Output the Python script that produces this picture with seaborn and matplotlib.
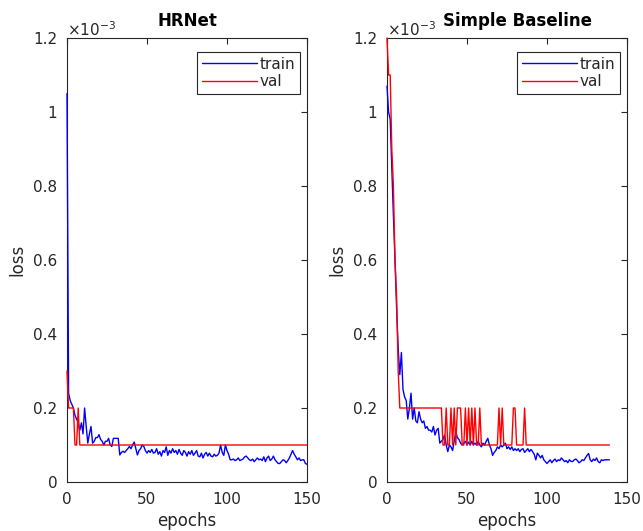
import numpy as np
import pandas as pd
import matplotlib
matplotlib.use('Agg')
import matplotlib.pyplot as plt
import seaborn as sns

# loss values, in units of 1e-3
hrnet_train = [
    1.05, 0.24, 0.22, 0.21, 0.20, 0.18, 0.17, 0.16, 0.14, 0.16,
    0.13, 0.20, 0.15, 0.105, 0.13, 0.15, 0.105, 0.11, 0.12, 0.12,
    0.128, 0.115, 0.11, 0.10, 0.11, 0.11, 0.118, 0.10, 0.096, 0.118,
    0.118, 0.118, 0.118, 0.073, 0.08, 0.083, 0.08, 0.085, 0.09, 0.096,
    0.09, 0.10, 0.108, 0.09, 0.073, 0.085, 0.09, 0.10, 0.096, 0.085,
    0.078, 0.085, 0.08, 0.088, 0.078, 0.08, 0.09, 0.075, 0.082, 0.07,
    0.085, 0.08, 0.095, 0.072, 0.085, 0.078, 0.09, 0.08, 0.085, 0.075,
    0.088, 0.078, 0.072, 0.085, 0.08, 0.07, 0.082, 0.075, 0.085, 0.072,
    0.078, 0.085, 0.07, 0.068, 0.078, 0.065, 0.075, 0.08, 0.07, 0.078,
    0.07, 0.068, 0.075, 0.07, 0.072, 0.078, 0.10, 0.08, 0.072, 0.10,
    0.085, 0.075, 0.06, 0.06, 0.062, 0.058, 0.06, 0.065, 0.058, 0.06,
    0.062, 0.068, 0.07, 0.065, 0.06, 0.058, 0.062, 0.055, 0.06, 0.065,
    0.06, 0.062, 0.058, 0.068, 0.055, 0.065, 0.07, 0.058, 0.062, 0.07,
    0.06, 0.055, 0.05, 0.05, 0.055, 0.06, 0.058, 0.052, 0.058, 0.065,
    0.075, 0.085, 0.075, 0.068, 0.06, 0.065, 0.058, 0.06, 0.06, 0.05,
    0.048,
]
# validation loss as (value, number of epochs) runs
hrnet_val_runs = [(0.3, 1), (0.2, 4), (0.1, 2), (0.2, 1), (0.1, 143)]

sb_train = [
    1.07, 1.0, 0.98, 0.85, 0.72, 0.6, 0.47, 0.36, 0.29, 0.35,
    0.25, 0.23, 0.22, 0.17, 0.2, 0.24, 0.17, 0.2, 0.165, 0.16,
    0.19, 0.17, 0.16, 0.165, 0.145, 0.15, 0.14, 0.14, 0.135, 0.15,
    0.127, 0.14, 0.145, 0.105, 0.11, 0.115, 0.127, 0.1, 0.082, 0.1,
    0.095, 0.085, 0.11, 0.136, 0.12, 0.115, 0.105, 0.1, 0.105, 0.11,
    0.1, 0.108, 0.1, 0.11, 0.1, 0.105, 0.1, 0.11, 0.1, 0.095,
    0.105, 0.1, 0.11, 0.118, 0.1, 0.09, 0.072, 0.08, 0.085, 0.095,
    0.09, 0.1, 0.095, 0.1, 0.105, 0.09, 0.095, 0.088, 0.095, 0.085,
    0.09, 0.085, 0.09, 0.082, 0.088, 0.09, 0.08, 0.085, 0.09, 0.082,
    0.088, 0.082, 0.075, 0.06, 0.078, 0.072, 0.065, 0.072, 0.06, 0.055,
    0.05, 0.055, 0.06, 0.052, 0.058, 0.062, 0.055, 0.06, 0.058, 0.065,
    0.06, 0.055, 0.058, 0.052, 0.06, 0.056, 0.055, 0.06, 0.062, 0.058,
    0.052, 0.055, 0.06, 0.058, 0.065, 0.072, 0.077, 0.06, 0.055, 0.062,
    0.058, 0.065, 0.055, 0.052, 0.06, 0.058, 0.06, 0.06, 0.06, 0.06,
]
sb_val_runs = [
    (1.2, 1), (1.1, 2), (0.9, 1), (0.8, 1), (0.6, 1), (0.5, 1), (0.3, 1),
    (0.2, 27), (0.1, 2), (0.2, 1), (0.1, 2), (0.2, 1), (0.1, 1), (0.2, 1),
    (0.1, 1), (0.2, 3), (0.1, 2), (0.2, 1), (0.1, 1), (0.2, 1), (0.1, 1),
    (0.2, 1), (0.1, 1), (0.2, 1), (0.1, 2), (0.2, 1), (0.1, 11), (0.2, 1),
    (0.1, 1), (0.2, 1), (0.1, 6), (0.2, 2), (0.1, 5), (0.2, 1), (0.1, 53),
]

titles = ['HRNet', 'Simple Baseline']
yticks = [0, 0.2, 0.4, 0.6, 0.8, 1.0, 1.2]
yticklabels = ['0', '0.2', '0.4', '0.6', '0.8', '1', '1.2']
xticks = [0, 50, 100, 150]


def expand(runs):
    vals = [v for v, n in runs]
    counts = [n for v, n in runs]
    return np.repeat(vals, counts)


def make_frame(train, val_runs):
    val = expand(val_runs)
    d1 = pd.DataFrame({'epoch': np.arange(len(train)), 'loss': train, 'set': 'train'})
    d2 = pd.DataFrame({'epoch': np.arange(len(val)), 'loss': val, 'set': 'val'})
    return pd.concat([d1, d2], ignore_index=True)


frames = [make_frame(hrnet_train, hrnet_val_runs), make_frame(sb_train, sb_val_runs)]

sns.set_style('white')
plt.rcParams['font.family'] = ['DejaVu Sans']
axcol = '#262626'

fig = plt.figure(figsize=(6.43, 5.31), dpi=100)
W, H = 643, 531
lefts = [67, 387]
title_x = [0.5, 0.545]

for i in range(2):
    ax = fig.add_axes([lefts[i] / W, 1 - 482 / H, 240 / W, 444 / H])
    sns.lineplot(data=frames[i], x='epoch', y='loss', hue='set',
                 palette={'train': '#0000ff', 'val': '#ff0000'},
                 linewidth=1.0, ax=ax, zorder=3)
    for ln in ax.get_lines():
        ln.set_clip_on(False)
    ax.set_xlim(0, 150)
    ax.set_ylim(0, 1.2)
    ax.set_xticks(xticks)
    ax.set_yticks(yticks)
    ax.set_yticklabels(yticklabels)
    ax.tick_params(direction='in', length=4, width=0.8, colors=axcol,
                   labelsize=11, top=True, right=True, pad=7)
    for s in ax.spines.values():
        s.set_color(axcol)
        s.set_linewidth(0.8)
        s.set_zorder(1)
    ax.set_xlabel('epochs', fontsize=12, color=axcol, labelpad=4)
    ax.set_ylabel('loss', fontsize=12, color=axcol, labelpad=5)
    ax.set_title(titles[i], fontsize=12, fontweight='bold', color='black',
                 x=title_x[i], pad=9)
    ax.text(0.0, 0.998, r'$\times10^{-3}$', transform=ax.transAxes,
            ha='left', va='bottom', fontsize=11, color=axcol)
    leg = ax.legend(loc='upper right', bbox_to_anchor=(0.971, 0.968),
                    borderaxespad=0, handlelength=3.6, fontsize=11,
                    fancybox=False, framealpha=1, edgecolor=axcol,
                    borderpad=0.3, labelspacing=0.15, handletextpad=0.2,
                    title=None)
    leg.get_frame().set_linewidth(0.8)
    leg.set_zorder(5)
    for t in leg.get_texts():
        t.set_color(axcol)

fig.savefig('out.png', dpi=100)
